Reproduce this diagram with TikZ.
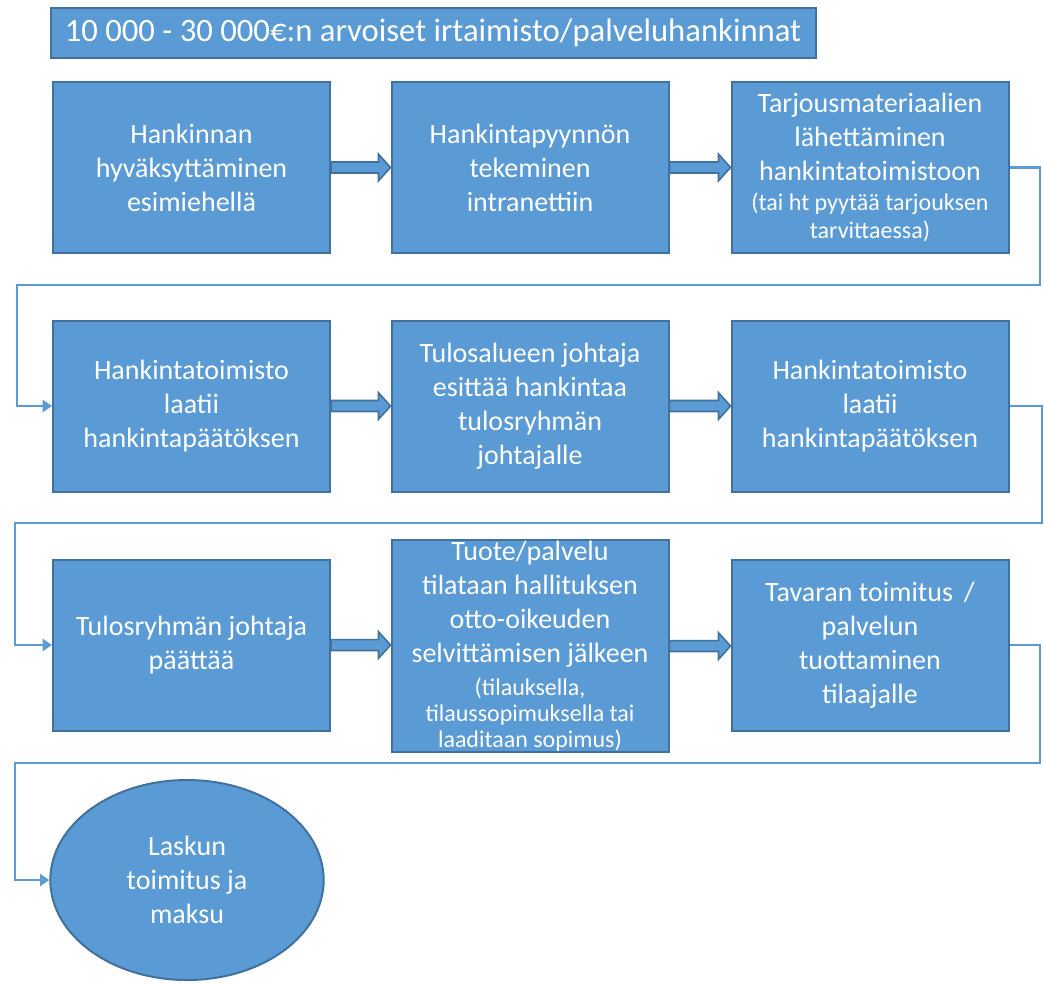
\documentclass[tikz,border=0pt]{standalone}
\usepackage{fontspec}
\setmainfont{Carlito}
\usetikzlibrary{arrows.meta,shapes.geometric,calc}
\definecolor{boxfill}{HTML}{5B9BD5}
\definecolor{boxline}{HTML}{41719C}
\definecolor{linkcol}{HTML}{5B9BD5}
\newcommand{\bigtxt}{\fontsize{21pt}{25.5pt}\selectfont}
\newcommand{\smltxt}{\fontsize{18pt}{21pt}\selectfont}
\begin{document}
\begin{tikzpicture}[x=0.75pt,y=-0.75pt,
  stepbox/.style={draw=boxline,line width=1.5pt,fill=boxfill,text=white,align=center,
    minimum width=207.75pt,minimum height=128.25pt,inner sep=2pt,font=\bigtxt},
  titlebox/.style={draw=boxline,line width=1.5pt,fill=boxfill,text=white,
    minimum width=573.75pt,minimum height=37.5pt,font=\fontsize{24.5pt}{28pt}\selectfont},
  endnode/.style={ellipse,draw=boxline,line width=1.5pt,fill=boxfill,text=white,align=center,
    minimum width=205pt,minimum height=150pt,inner sep=0pt,font=\bigtxt},
  link/.style={draw=linkcol,line width=2pt,-{Triangle[length=7pt,width=9pt]}},
  blockarrow/.style={fill=boxfill,draw=boxline,line width=1.2pt}
]
\useasboundingbox (0,0) rectangle (1044,983);
\node[titlebox] (title) at (433,33) {10 000 - 30 000€:n arvoiset irtaimisto/palveluhankinnat};

\node[stepbox] (b1) at (191.5,167.5) {Hankinnan\\hyväksyttäminen\\esimiehellä};
\node[stepbox] (b2) at (530,167.5) {Hankintapyynnön\\tekeminen\\intranettiin};
\node[stepbox] (b3) at (870,167.5) {Tarjousmateriaalien\\lähettäminen\\hankintatoimistoon\\[-3pt]{\smltxt (tai ht pyytää tarjouksen}\\[-4.5pt]{\smltxt tarvittaessa)}};

\node[stepbox] (b4) at (191.5,406) {Hankintatoimisto\\laatii\\hankintapäätöksen};
\node[stepbox] (b5) at (530,406) {Tulosalueen johtaja\\esittää hankintaa\\tulosryhmän\\johtajalle};
\node[stepbox] (b6) at (870,406) {Hankintatoimisto\\laatii\\hankintapäätöksen};

\node[stepbox] (b7) at (191.5,645) {Tulosryhmän johtaja\\päättää};
\node[stepbox,minimum height=159pt,inner sep=0pt] (b8) at (530,646) {Tuote/palvelu\\tilataan hallituksen\\otto-oikeuden\\selvittämisen jälkeen\\[-1pt]{\smltxt (tilauksella,}\\[-6pt]{\smltxt tilaussopimuksella tai}\\[-6pt]{\smltxt laaditaan sopimus)}};
\node[stepbox] (b9) at (870,645) {Tavaran toimitus \,/\\palvelun\\tuottaminen\\tilaajalle};

\node[endnode] (e) at (187,880) {Laskun\\toimitus ja\\maksu};

% block arrows
\foreach \a/\b in {b1/b2,b2/b3,b4/b5,b5/b6,b7/b8,b8/b9}{
  \path[blockarrow] let \p1=(\a.east), \p2=(\b.west) in
    (\x1,\y1+4.1pt) -- (\x2-9pt,\y1+4.1pt) -- (\x2-9pt,\y1+10pt) -- (\x2,\y1)
    -- (\x2-9pt,\y1-10pt) -- (\x2-9pt,\y1-4.1pt) -- (\x1,\y1-4.1pt) -- cycle;
}

% connectors
\coordinate (r1) at (1040,285);
\coordinate (l1) at (17,285);
\draw[link] (b3.east) -| (r1) -| (l1) |- (b4.west);
\coordinate (r2) at (1042,523);
\coordinate (l2) at (15,523);
\draw[link] (b6.east) -| (r2) -| (l2) |- (b7.west);
\coordinate (r3) at (1040,763);
\coordinate (l3) at (15,763);
\draw[link] (b9.east) -| (r3) -| (l3) |- (e.west);
\end{tikzpicture}
\end{document}
